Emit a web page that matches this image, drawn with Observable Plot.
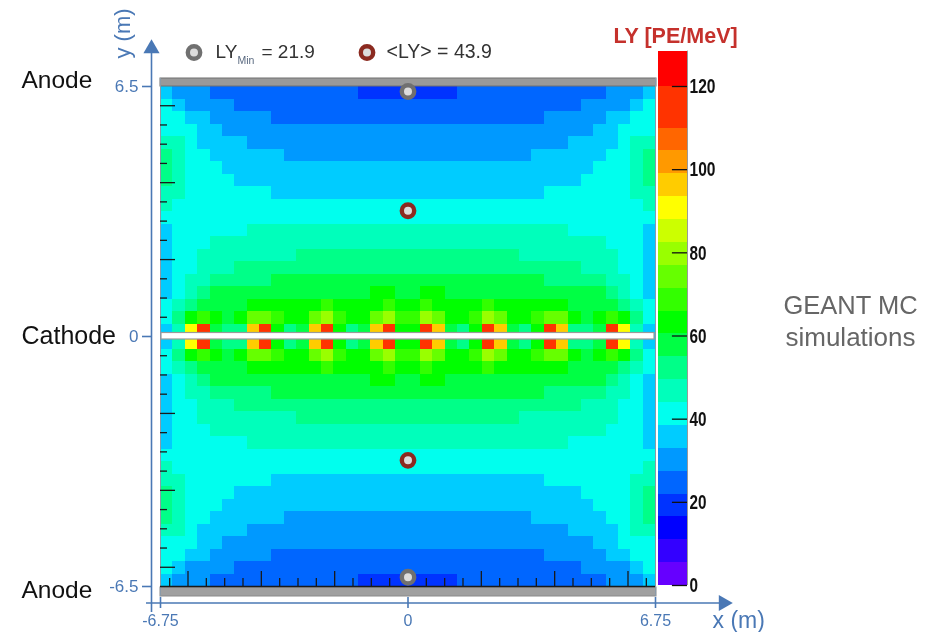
<!DOCTYPE html>
<html><head><meta charset="utf-8">
<script src="https://cdn.jsdelivr.net/npm/d3@7"></script>
<script src="https://cdn.jsdelivr.net/npm/@observablehq/plot@0.6"></script>
<style>
html,body{margin:0;padding:0;background:#fff;}
#wrap{position:relative;width:925px;height:632px;overflow:hidden;filter:blur(0.4px);}
#wrap svg{position:absolute;left:0;top:0;background:transparent;}
</style></head><body><div id="wrap"></div>
<script>
// LY per cell, upper-left quadrant of the detector (row 0 at the anode, column 0 at x=-6.75)
const quadrant = [
 [35.5,30,30,30,24.5,24.5,24.5,24.5,24.5,24.5,24.5,24.5,24.5,24.5,24.5,24.5,21,21,21,21],
 [41,35.5,30,30,30,30,24.5,24.5,24.5,24.5,24.5,24.5,24.5,24.5,24.5,24.5,24.5,24.5,24.5,24.5],
 [41,41,35.5,35.5,30,30,30,30,30,24.5,24.5,24.5,24.5,24.5,24.5,24.5,24.5,24.5,24.5,24.5],
 [41,41,41,35.5,35.5,30,30,30,30,30,30,30,30,30,30,30,30,30,30,30],
 [46.5,46.5,41,35.5,35.5,35.5,35.5,30,30,30,30,30,30,30,30,30,30,30,30,30],
 [52,46.5,41,41,35.5,35.5,35.5,35.5,35.5,35.5,30,30,30,30,30,30,30,30,30,30],
 [52,46.5,41,41,41,35.5,35.5,35.5,35.5,35.5,35.5,35.5,35.5,35.5,35.5,35.5,35.5,35.5,35.5,35.5],
 [52,46.5,41,41,41,41,35.5,35.5,35.5,35.5,35.5,35.5,35.5,35.5,35.5,35.5,35.5,35.5,35.5,35.5],
 [46.5,46.5,41,41,41,41,41,41,41,35.5,35.5,35.5,35.5,35.5,35.5,35.5,35.5,35.5,35.5,35.5],
 [46.5,41,41,41,41,41,41,41,41,41,41,41,41,41,41,41,41,41,41,41],
 [41,41,41,41,41,41,41,41,41,41,41,41,41,41,41,41,41,41,41,41],
 [35.5,41,41,41,41,41,41,46.5,46.5,46.5,46.5,46.5,46.5,46.5,46.5,46.5,46.5,46.5,46.5,46.5],
 [35.5,41,41,41,46.5,46.5,46.5,46.5,46.5,46.5,46.5,46.5,46.5,46.5,46.5,46.5,46.5,46.5,46.5,46.5],
 [35.5,41,41,46.5,46.5,46.5,46.5,46.5,46.5,46.5,46.5,52,52,52,52,52,52,52,52,52],
 [35.5,41,41,46.5,46.5,46.5,52,52,52,52,52,52,52,52,52,52,52,52,52,52],
 [35.5,41,46.5,46.5,52,52,52,52,52,57.5,57.5,57.5,57.5,57.5,57.5,57.5,57.5,57.5,57.5,57.5],
 [35.5,41,46.5,52,57.5,57.5,57.5,57.5,57.5,57.5,57.5,57.5,57.5,57.5,57.5,57.5,57.5,63,63,57.5],
 [41,46.5,52,57.5,57.5,57.5,57.5,63,63,63,63,63,63,68.5,63,63,63,63,68.5,63],
 [41,52,63,68.5,63,57.5,63,74,74,68.5,63,63,74,79.5,68.5,63,63,74,79.5,68.5],
 [35.5,46.5,90.5,115,57.5,52,52,96,115,63,52,57.5,96,115,63,52,57.5,96,115,63]
];
// Colour bar
const thresholds = [5.5,11,16.5,22,27.5,33,38.5,44,49.5,55,60.5,66,71.5,77,82.5,88,93.5,99,104.5,110,120];
const palette = ["#6600ff","#3300ff","#0000ff","#0033ff","#0066ff","#0099ff","#00ccff","#00ffee","#00ffbb","#00ff88","#00ff44","#00ff00","#33ff00","#66ff00","#99ff00","#ccff00","#ffff00","#ffcc00","#ff9900","#ff6600","#ff3300","#ff0000"];
const barTop = 128.5;
const ticksLY = [0,20,40,60,80,100,120];
// Ticks
const majorTicks = [-6,-4,-2,2,4,6];
const leftMinor = [-5.5,-5,-4.5,-3.5,-3,-2.5,-1.5,-1,-0.5,0.5,1,1.5,2.5,3,3.5,4.5,5,5.5];
const bottomMinor = [-6.5,...leftMinor,6.5];
const xTicks = [-6.75,0,6.75];
const yTicks = [-6.5,0,6.5];
// Marked points
const ly = {min:21.9, mean:43.9};
const minPoints = [{x:0,y:6.37},{x:0,y:-6.26}];
const meanPoints = [{x:0,y:3.27},{x:0,y:-3.22}];

const nRows = 40, nCols = 40;
const dx = 13.5/nCols, dy = 13/nRows;
const cells = [];
quadrant.forEach((row,r)=>row.forEach((v,c)=>{
  for (const cc of [c,nCols-1-c]) for (const rr of [r,nRows-1-r]) {
    cells.push({x1:-6.75+cc*dx,x2:-6.75+(cc+1)*dx,y1:6.5-rr*dy,y2:6.5-(rr+1)*dy,v});
  }
}));
const colorScale = {type:"threshold",domain:thresholds,range:palette};

// annotation positions, given in the chart's data units
const X = p => (p-407.5)/(495/13.5), Y = p => (336-p)/(500/13);
const blue = "#4a78b5", font = "Liberation Sans, Arial, sans-serif";
const T = (s,px,py,o) => Plot.text([s],{x:()=>X(px),y:()=>Y(py),text:d=>d,fontFamily:font,textAnchor:"start",lineAnchor:"middle",...o});
const ring = (data,stroke) => Plot.dot(data,{x:"x",y:"y",r:6.2,fill:"#dcdcdc",stroke,strokeWidth:4.4});

const main = Plot.plot({
  width:925,height:632,margin:0,
  style:{background:"transparent"},
  x:{domain:[-6.75,6.75],range:[160,655],axis:null},
  y:{domain:[-6.5,6.5],range:[586,86],axis:null},
  color:colorScale,
  marks:[
    Plot.rect(cells,{x1:"x1",x2:"x2",y1:"y1",y2:"y2",fill:"v",shapeRendering:"crispEdges"}),
    // frame and bars
    Plot.rect([0],{x1:()=>-6.75,x2:()=>X(656),y1:()=>Y(78),y2:()=>Y(86),fill:"#999",stroke:"#707070",strokeWidth:1}),
    Plot.rect([0],{x1:()=>-6.75,x2:()=>X(656),y1:()=>Y(587),y2:()=>Y(596),fill:"#a0a0a0",stroke:"#8a8a8a",strokeWidth:1}),
    Plot.rect([0],{x1:()=>X(161),x2:()=>X(654),y1:()=>Y(332.5),y2:()=>Y(339),fill:"#fff",stroke:"#9a9a9a",strokeWidth:1.2}),
    Plot.ruleX([-6.75,6.75],{y1:()=>Y(78),y2:()=>Y(596),stroke:"#8a9aa8",strokeWidth:1}),
    // inner black ticks
    Plot.ruleY(majorTicks,{x1:()=>-6.75,x2:()=>X(175),stroke:"#1a1a1a",strokeWidth:1.3}),
    Plot.ruleY(leftMinor,{x1:()=>-6.75,x2:()=>X(167),stroke:"#1a1a1a",strokeWidth:1.3}),
    Plot.ruleX(majorTicks,{y1:()=>-6.5,y2:()=>Y(571),stroke:"#1a1a1a",strokeWidth:1.3}),
    Plot.ruleX(bottomMinor,{y1:()=>-6.5,y2:()=>Y(578),stroke:"#1a1a1a",strokeWidth:1.3}),
    Plot.ruleY([-6.5],{x1:()=>-6.75,x2:()=>6.75,stroke:"#1a1a1a",strokeWidth:1.6}),
    // blue axes
    Plot.ruleX([X(151)],{y1:()=>Y(48),y2:()=>Y(612),stroke:blue,strokeWidth:1.6}),
    Plot.ruleY([Y(602.5)],{x1:()=>X(146),x2:()=>X(722),stroke:blue,strokeWidth:1.6}),
    Plot.dot([0],{x:()=>X(151),y:()=>Y(48),symbol:"triangle",r:6,fill:blue}),
    Plot.dot([0],{x:()=>X(723),y:()=>Y(602.5),symbol:"triangle",r:6,fill:blue,rotate:90}),
    Plot.ruleY(yTicks,{x1:()=>X(142),x2:()=>X(151),stroke:blue,strokeWidth:1.6}),
    Plot.ruleX(xTicks,{y1:()=>Y(597),y2:()=>Y(608),stroke:blue,strokeWidth:1.6}),
    Plot.text(yTicks,{x:()=>X(138),y:d=>d,text:d=>String(d),textAnchor:"end",fill:blue,fontSize:17,fontFamily:font}),
    Plot.text(xTicks,{x:d=>d,y:()=>Y(620),text:d=>String(d),fill:blue,fontSize:16,fontFamily:font}),
    T("x (m)",712,620,{fill:blue,fontSize:23}),
    T("y (m)",122,33,{fill:blue,fontSize:22,rotate:-90,textAnchor:"middle",letterSpacing:1}),
    // points
    ring(minPoints,"#707070"),
    ring(meanPoints,"#8b2a20"),
    ring([{x:X(193.5),y:Y(52)}],"#707070"),
    ring([{x:X(366.5),y:Y(52)}],"#8b2a20"),
    T("LY",215,51,{fill:"#333",fontSize:19}),
    T("Min",237,60,{fill:"#5a6a80",fontSize:10.5}),
    T(`= ${ly.min}`,261,51,{fill:"#333",fontSize:19}),
    T(`<LY> = ${ly.mean}`,386,51,{fill:"#333",fontSize:19.5}),
    T("Anode",21,80,{fill:"#111",fontSize:24.5}),
    T("Cathode",21,335,{fill:"#111",fontSize:25}),
    T("Anode",21,590,{fill:"#111",fontSize:24.5}),
    T("GEANT MC",850,305,{fill:"#666",fontSize:25.5,textAnchor:"middle"}),
    T("simulations",850,337,{fill:"#666",fontSize:26,textAnchor:"middle"}),
    T("LY [PE/MeV]",675,36,{fill:"#c5312c",fontSize:21.5,fontWeight:"bold",textAnchor:"middle"})
  ]
});

// colour bar
const edges = [0,...thresholds,barTop];
const bands = d3.pairs(edges).map(([lo,hi])=>({lo,hi,mid:(lo+hi)/2}));
const bar = Plot.plot({
  width:925,height:632,margin:0,
  style:{background:"transparent"},
  x:{domain:[0,1],range:[658,687],axis:null},
  y:{domain:[0,120],range:[585,86],axis:null},
  color:colorScale,
  marks:[
    Plot.rect(bands,{x1:()=>0,x2:()=>1,y1:"lo",y2:"hi",fill:"mid",shapeRendering:"crispEdges"}),
    Plot.ruleX([1],{y1:()=>0,y2:()=>barTop,stroke:"#999",strokeWidth:1}),
    Plot.ruleY(ticksLY,{x1:()=>0.48,x2:()=>1,stroke:"#111",strokeWidth:1.3}),
    Plot.text(ticksLY,{x:()=>1,y:d=>d,dx:2,text:d=>String(d),textAnchor:"start",fontSize:21,fill:"#111",fontWeight:"bold",fontFamily:font})
  ]
});
// the bar's labels are set in a condensed face
bar.querySelectorAll("text").forEach(t=>{
  const n = t.textContent.length;
  t.setAttribute("textLength", n===3?26:n===2?17:8.5);
  t.setAttribute("lengthAdjust","spacingAndGlyphs");
});
document.getElementById("wrap").append(main,bar);
</script>
</body></html>
